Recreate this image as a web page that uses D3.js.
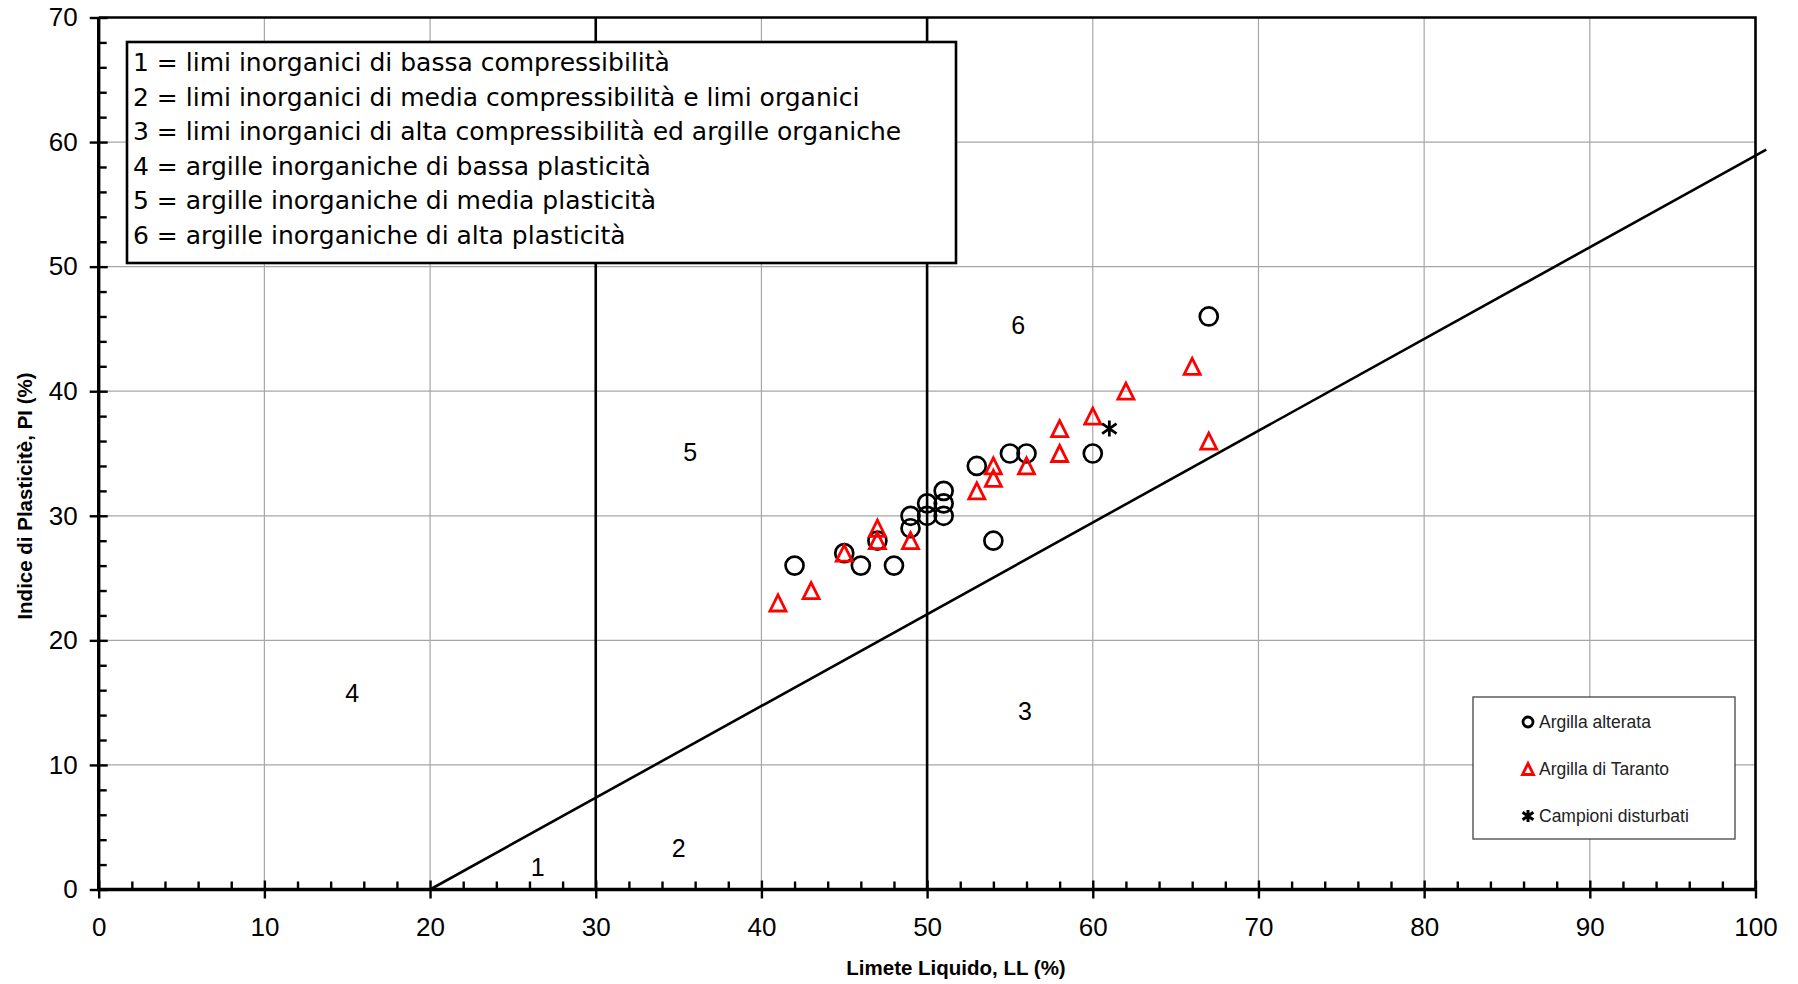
<!DOCTYPE html>
<html>
<head>
<meta charset="utf-8">
<script src="https://cdn.jsdelivr.net/npm/d3@7"></script>
<style>
  html, body { margin: 0; padding: 0; background: #fff; }
  .chart text { font-family: 'Century Gothic', 'Liberation Sans', Arial, sans-serif; fill: #000; }
  .chart .zone-legend text { font-family: 'Century Gothic', 'DejaVu Sans', sans-serif; }
</style>
</head>
<body>
<div class="chart"></div>
<script>
// Carta di plasticità (Casagrande)

// Argilla alterata
const alterataLL = [42, 45, 46, 47, 48, 49, 49, 50, 50, 51, 51, 51, 53, 54, 55, 56, 60, 67];
const alterataPI = [26, 27, 26, 28, 26, 30, 29, 31, 30, 32, 31, 30, 34, 28, 35, 35, 35, 46];

// Argilla di Taranto
const tarantoLL = [41, 43, 45, 47, 47, 49, 53, 54, 54, 56, 58, 58, 60, 62, 66, 67];
const tarantoPI = [23, 24, 27, 29, 28, 28, 32, 34, 33, 34, 35, 37, 38, 40, 42, 36];

// Campioni disturbati
const disturbatiLL = [61];
const disturbatiPI = [37];

const seriesNames = ['Argilla alterata', 'Argilla di Taranto', 'Campioni disturbati'];

// A-line and LL boundaries
const aLineLL = [20, 100.65];
const aLinePI = [0, 59.4];
const boundaryLL = [30, 50];

// zone numbers
const zoneLabels = ['1', '2', '3', '4', '5', '6'];
const zoneLL = [26.5, 35.0, 55.9, 15.3, 35.7, 55.5];
const zonePI = [1.8, 3.3, 14.3, 15.8, 35.1, 45.3];

const zoneLegend = [
  '1 = limi inorganici di bassa compressibilità',
  '2 = limi inorganici di media compressibilità e limi organici',
  '3 = limi inorganici di alta compressibilità ed argille organiche',
  '4 = argille inorganiche di bassa plasticità',
  '5 = argille inorganiche di media plasticità',
  '6 = argille inorganiche di alta plasticità'
];

const xTicks = [0, 10, 20, 30, 40, 50, 60, 70, 80, 90, 100];
const yTicks = [0, 10, 20, 30, 40, 50, 60, 70];
const xMinor = d3.range(0, 100, 2).filter((d) => d % 10 !== 0);
const yMinor = d3.range(0, 70, 2).filter((d) => d % 10 !== 0);

const xTitle = 'Limete Liquido, LL (%)';
const yTitle = 'Indice di Plasticitè, PI (%)';

const width = 1798;
const height = 984;
const margin = { top: 17.5, right: 42.5, bottom: 94.5, left: 98.7 };

const svg = d3.select('.chart')
  .append('svg')
  .attr('width', width)
  .attr('height', height);

const x = d3.scaleLinear().domain([0, 100]).range([margin.left, width - margin.right]);
const y = d3.scaleLinear().domain([0, 70]).range([height - margin.bottom, margin.top]);

// grid
svg.append('g')
  .selectAll('line')
  .data(xTicks.slice(1, -1))
  .join('line')
  .attr('x1', (d) => x(d)).attr('x2', (d) => x(d))
  .attr('y1', y(0)).attr('y2', y(70))
  .attr('stroke', '#a6a6a6').attr('stroke-width', 1.2);

svg.append('g')
  .selectAll('line')
  .data(yTicks.slice(1, -1))
  .join('line')
  .attr('x1', x(0)).attr('x2', x(100))
  .attr('y1', (d) => y(d)).attr('y2', (d) => y(d))
  .attr('stroke', '#a6a6a6').attr('stroke-width', 1.2);

// LL = 30 and LL = 50
svg.append('g')
  .selectAll('line')
  .data(boundaryLL)
  .join('line')
  .attr('x1', (d) => x(d)).attr('x2', (d) => x(d))
  .attr('y1', y(0)).attr('y2', y(70))
  .attr('stroke', '#000').attr('stroke-width', 2.6);

// A-line
svg.append('path')
  .datum(aLineLL.map((d, k) => [d, aLinePI[k]]))
  .attr('fill', 'none')
  .attr('stroke', '#000')
  .attr('stroke-width', 2.6)
  .attr('d', d3.line().x((d) => x(d[0])).y((d) => y(d[1])));

// zone numbers
svg.append('g')
  .selectAll('text')
  .data(zoneLabels)
  .join('text')
  .attr('x', (d, k) => x(zoneLL[k]))
  .attr('y', (d, k) => y(zonePI[k]))
  .attr('dy', '0.36em')
  .attr('text-anchor', 'middle')
  .style('font-size', '25px')
  .text((d) => d);

// frame (top / right)
svg.append('path')
  .attr('fill', 'none')
  .attr('stroke', '#000')
  .attr('stroke-width', 2.6)
  .attr('d', `M${x(0)},${y(70)}H${x(100)}V${y(0)}`);

// ****************** axes ***************************

const tickStyle = (g) => {
  g.select('.domain').remove();
  g.selectAll('.tick line').attr('stroke', '#000').attr('stroke-width', 2.4);
  g.selectAll('.tick text').style('font-size', '26px').attr('fill', '#000');
};

const gx = svg.append('g').attr('transform', `translate(0,${y(0)})`);
gx.append('g')
  .call(d3.axisBottom(x).tickValues(xTicks).tickSize(9).tickPadding(19))
  .call(tickStyle);
gx.append('g')
  .call(d3.axisTop(x).tickValues(xTicks).tickSize(9).tickFormat(''))
  .call(tickStyle);
gx.append('g')
  .call(d3.axisTop(x).tickValues(xMinor).tickSize(8).tickFormat(''))
  .call(tickStyle);

const gy = svg.append('g').attr('transform', `translate(${x(0)},0)`);
gy.append('g')
  .call(d3.axisLeft(y).tickValues(yTicks).tickSize(9).tickPadding(12))
  .call(tickStyle);
gy.append('g')
  .call(d3.axisRight(y).tickValues(yTicks).tickSize(9).tickFormat(''))
  .call(tickStyle);
gy.append('g')
  .call(d3.axisRight(y).tickValues(yMinor).tickSize(8).tickFormat(''))
  .call(tickStyle);

// axis lines
svg.append('path')
  .attr('fill', 'none')
  .attr('stroke', '#000')
  .attr('stroke-width', 3.4)
  .attr('d', `M${x(0)},${y(70)}V${y(0)}H${x(100)}`);

// axis titles
svg.append('text')
  .attr('x', 956)
  .attr('y', 968)
  .attr('dy', '0.36em')
  .attr('text-anchor', 'middle')
  .style('font-size', '20.5px')
  .style('font-weight', 'bold')
  .text(xTitle);

svg.append('text')
  .attr('transform', 'translate(25,496) rotate(-90)')
  .attr('dy', '0.36em')
  .attr('text-anchor', 'middle')
  .style('font-size', '20.5px')
  .style('font-weight', 'bold')
  .text(yTitle);

// ****************** zone legend ***************************

const zl = svg.append('g').attr('class', 'zone-legend').attr('transform', 'translate(127,42)');
zl.append('rect')
  .attr('width', 829).attr('height', 221)
  .attr('fill', '#fff').attr('stroke', '#000').attr('stroke-width', 2.6);
zl.selectAll('text')
  .data(zoneLegend)
  .join('text')
  .attr('x', 6)
  .attr('y', (d, k) => 20 + k * 34.6)
  .attr('dy', '0.36em')
  .style('font-size', '25px')
  .text((d) => d);

// ****************** markers ***************************

// open circles
svg.append('g')
  .selectAll('circle')
  .data(alterataLL.map((d, k) => [d, alterataPI[k]]))
  .join('circle')
  .attr('cx', (d) => x(d[0]))
  .attr('cy', (d) => y(d[1]))
  .attr('r', 9)
  .attr('fill', 'none')
  .attr('stroke', '#000')
  .attr('stroke-width', 2.7);

// red open triangles (centered on bbox)
const triangle = {
  draw(context, size) {
    const s = Math.sqrt(size);
    context.moveTo(0, -s / 2);
    context.lineTo(s / 2, s / 2);
    context.lineTo(-s / 2, s / 2);
    context.closePath();
  }
};

// asterisk: vertical bar + X
const star = {
  draw(context, size) {
    const r = Math.sqrt(size) / 2;
    const a = r * 0.9;
    const b = r * 0.62;
    context.moveTo(0, -r); context.lineTo(0, r);
    context.moveTo(-a, -b); context.lineTo(a, b);
    context.moveTo(-a, b); context.lineTo(a, -b);
  }
};

svg.append('g')
  .selectAll('path')
  .data(tarantoLL.map((d, k) => [d, tarantoPI[k]]))
  .join('path')
  .attr('transform', (d) => `translate(${x(d[0])},${y(d[1])})`)
  .attr('d', d3.symbol().type(triangle).size(16 * 16))
  .attr('fill', 'none')
  .attr('stroke', '#ff0000')
  .attr('stroke-width', 2.8)
  .attr('stroke-linejoin', 'miter');

svg.append('g')
  .selectAll('path')
  .data(disturbatiLL.map((d, k) => [d, disturbatiPI[k]]))
  .join('path')
  .attr('transform', (d) => `translate(${x(d[0])},${y(d[1])})`)
  .attr('d', d3.symbol().type(star).size(16 * 16))
  .attr('fill', 'none')
  .attr('stroke', '#000')
  .attr('stroke-width', 2.8);

// ****************** series legend ***************************

const sl = svg.append('g').attr('transform', 'translate(1473,697)');
sl.append('rect')
  .attr('width', 262).attr('height', 142)
  .attr('fill', '#fff').attr('stroke', '#444').attr('stroke-width', 1.3);

const item = sl.selectAll('g.item')
  .data(seriesNames)
  .join('g')
  .attr('class', 'item')
  .attr('transform', (d, k) => `translate(55,${25 + k * 47})`);

item.filter((d, k) => k === 0).append('circle')
  .attr('r', 5).attr('fill', 'none').attr('stroke', '#000').attr('stroke-width', 2.8);
item.filter((d, k) => k === 1).append('path')
  .attr('d', d3.symbol().type(triangle).size(11 * 11))
  .attr('fill', 'none').attr('stroke', '#ff0000').attr('stroke-width', 2.8);
item.filter((d, k) => k === 2).append('path')
  .attr('d', d3.symbol().type(star).size(12 * 12))
  .attr('fill', 'none').attr('stroke', '#000').attr('stroke-width', 3);

item.append('text')
  .attr('x', 11)
  .attr('dy', '0.36em')
  .style('font-size', '17.5px')
  .style('fill', '#222')
  .text((d) => d);
</script>
</body>
</html>
